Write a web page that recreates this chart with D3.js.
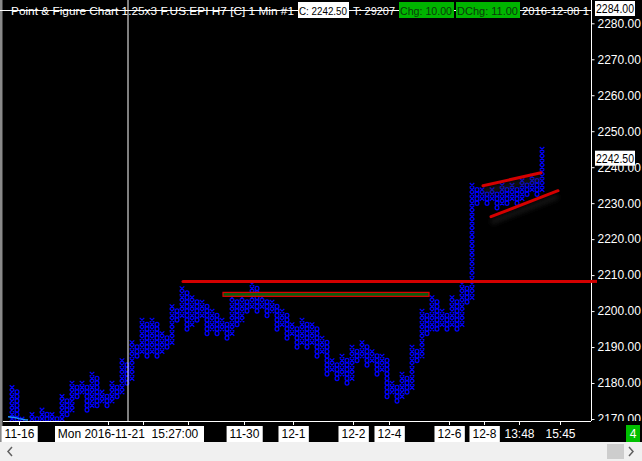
<!DOCTYPE html>
<html><head><meta charset="utf-8">
<script src="https://cdn.jsdelivr.net/npm/d3@7"></script>
<style>html,body{margin:0;padding:0;background:#000;overflow:hidden}svg{display:block}</style>
</head><body><svg id="c" width="642" height="461"></svg>
<script>
// ---- data ----
const boxSize = 1.25;
const colType = "XOXOXOXOXOXOXOXOXOXOXOXOXOXOXOXOXOXOXOXOXOXOXOXOXOXOXOXOXOXOXOXOXOXOXOXOXOXOXOXOXOXOXOXOXOXOXOXOXOXOXOXOXOX".split("");
const colHigh = [2178.75,2177.5,2170,2168.75,2171.25,2170,2172.5,2171.25,2171.25,2170,
 2176.25,2175,2180,2178.75,2180,2178.75,2182.5,2181.25,2177.5,2176.25,
 2180,2178.75,2186.25,2185,2191.25,2190,2197.5,2196.25,2197.5,2196.25,
 2193.75,2192.5,2201.25,2200,2206.25,2205,2203.75,2202.5,2202.5,2201.25,
 2200,2198.75,2197.5,2196.25,2203.75,2202.5,2203.75,2202.5,2207.5,2206.25,
 2203.75,2202.5,2202.5,2201.25,2200,2198.75,2196.25,2195,2197.5,2196.25,
 2196.25,2195,2192.5,2191.25,2186.25,2185,2187.5,2186.25,2190,2188.75,
 2191.25,2190,2188.75,2187.5,2187.5,2186.25,2180,2178.75,2182.5,2181.25,
 2190,2188.75,2200,2198.75,2203.75,2202.5,2200,2198.75,2203.75,2202.5,
 2207.5,2206.25,2235,2233.75,2233.75,2232.5,2233.75,2232.5,2235,2233.75,
 2235,2233.75,2236.25,2235,2237.5,2236.25,2245];
const colLow = [2167.5,2167.5,2167.5,2167.5,2167.5,2167.5,2167.5,2167.5,2167.5,2167.5,
 2170,2171.25,2172.5,2176.25,2177.5,2172.5,2173.75,2173.75,2175,2173.75,
 2175,2176.25,2177.5,2180,2181.25,2187.5,2188.75,2187.5,2188.75,2187.5,
 2188.75,2190,2191.25,2197.5,2198.75,2195,2196.25,2197.5,2198.75,2193.75,
 2195,2193.75,2195,2192.5,2193.75,2196.25,2197.5,2200,2201.25,2200,
 2201.25,2198.75,2200,2195,2196.25,2192.5,2193.75,2190,2191.25,2190,
 2191.25,2187.5,2188.75,2182.5,2183.75,2181.25,2182.5,2180,2181.25,2186.25,
 2187.5,2185,2186.25,2182.5,2183.75,2176.25,2177.5,2175,2176.25,2177.5,
 2178.75,2186.25,2187.5,2193.75,2195,2195,2196.25,2195,2196.25,2195,
 2196.25,2202.5,2203.75,2230,2231.25,2230,2231.25,2228.75,2230,2230,
 2231.25,2230,2231.25,2232.5,2233.75,2232.5,2233.75];
const priceTicks = [2170,2180,2190,2200,2210,2220,2230,2240,2250,2260,2270,2280];
const timeTickPos = [1.4,19.2,26.2,35.2,46.4,56.2,68.2,75.4,87.4,94.4,101.4,109.6];
// labels under the crosshair label are hidden in the reference (empty here)
const timeTickLabels = ["11-16","","","","11-30","12-1","12-2","12-4","12-6","12-8","13:48","15:45"];
const timeTickBoxed = [true,false,false,false,true,true,true,true,true,true,false,false];
const crossCol = 23.2;
const crossLabel = "Mon 2016-11-21  15:27:00";
const topPriceLabel = 2284.00, lastPrice = 2242.50;
// drawn studies: [col, price] endpoints
const resistLine = [[34.2,2208.25],[117.0,2208.25]];
const boxZone = {c0:42.2, c1:83.4, p0:2204.1, p1:2205.2};
const chanUpper = [[94.2,2234.85],[105.8,2238.45]];
const chanLower = [[95.8,2226.26],[109.2,2233.46]];
const blueLine = [[-0.8,2170.6],[0.6,2170.4],[1.4,2170.1],[2.6,2169.8],[3.2,2169.7]];
const headerParts = [
 {t:"Point & Figure Chart 1.25x3 F.US.EPI H7 [C]  1 Min   #1", bg:null, fg:"#fff"},
 {t:"C: 2242.50", bg:"#fff", fg:"#000"},
 {t:"T: 29207", bg:null, fg:"#fff"},
 {t:"Chg: 10.00", bg:"#00b400", fg:"#0b3b0b"},
 {t:"DChg: 11.00", bg:"#00b400", fg:"#0b3b0b"},
 {t:"2016-12-08 1", bg:null, fg:"#fff"}];
const headerX = [10,298,352,399,456,521];
const headerW = [286,51,45,55,64,70];

// ---- layout ----
const W=642,H=461, plotL=3, plotR=591, plotT=0, plotB=421;
const svg = d3.select("#c");
const font = "'Liberation Sans', Arial, sans-serif";
const x = d3.scaleLinear().domain([0,106]).range([12,542]);
const y = d3.scaleLinear().domain([2170,2280]).range([419,23.3]);

svg.append("rect").attr("width",W).attr("height",H).attr("fill","#000");
const defs = svg.append("defs");
defs.append("clipPath").attr("id","plot").append("rect").attr("x",plotL).attr("y",plotT).attr("width",plotR-plotL).attr("height",plotB-plotT);
defs.append("clipPath").attr("id","axisclip").append("rect").attr("x",plotR).attr("y",0).attr("width",W-plotR).attr("height",plotB);
const f = defs.append("filter").attr("id","shadow").attr("x","-10%").attr("y","-200%").attr("width","120%").attr("height","500%");
f.append("feGaussianBlur").attr("stdDeviation",2.5);

// left border
svg.append("rect").attr("x",0).attr("y",0).attr("width",2.5).attr("height",442).attr("fill","#8a8a8a");

const plot = svg.append("g").attr("clip-path","url(#plot)");

// P&F glyphs
const glyphs = [];
colHigh.forEach((hi,i)=>{
  const n = Math.round((hi-colLow[i])/boxSize);
  for(let k=0;k<=n;k++) glyphs.push({i, p: colLow[i]+k*boxSize, t: colType[i]});
});
const gx = glyphs.filter(d=>d.t==="X"), go = glyphs.filter(d=>d.t==="O");
plot.append("path").attr("fill","none").attr("stroke","#0000ff").attr("stroke-width",1.25)
  .attr("d", gx.map(d=>{const cx=x(d.i), cy=y(d.p);
     return `M${cx-2.3},${cy-2.2}L${cx+2.3},${cy+2.2}M${cx+2.3},${cy-2.2}L${cx-2.3},${cy+2.2}`;}).join(""));
plot.selectAll("ellipse.o").data(go).join("ellipse").attr("class","o")
  .attr("cx",d=>x(d.i)).attr("cy",d=>y(d.p)).attr("rx",1.9).attr("ry",2.1)
  .attr("fill","none").attr("stroke","#0000ff").attr("stroke-width",1.25);

// light blue study
plot.append("path").datum(blueLine).attr("fill","none").attr("stroke","#1e90ff").attr("stroke-width",1.5)
  .attr("d", d3.line().x(d=>x(d[0])).y(d=>y(d[1])));

// red studies with shadows
const line = d3.line().x(d=>x(d[0])).y(d=>y(d[1]));
const studies = svg.append("g");
[resistLine, chanUpper, chanLower].forEach(seg=>{
  studies.append("path").datum(seg.map(d=>[d[0],d[1]-1.6])).attr("d",line)
    .attr("stroke","#2a2a2a").attr("stroke-width",5).attr("fill","none").attr("filter","url(#shadow)").attr("opacity",0.55);
});
studies.append("rect").attr("x",x(boxZone.c0)).attr("y",y(boxZone.p1)).attr("width",x(boxZone.c1)-x(boxZone.c0))
  .attr("height",y(boxZone.p0)-y(boxZone.p1)).attr("fill","#0b5a0b").attr("stroke","#e00000").attr("stroke-width",1.2);
[resistLine, chanUpper, chanLower].forEach(seg=>{
  studies.append("path").datum(seg).attr("d",line).attr("stroke","#d40000").attr("stroke-width",3).attr("fill","none").attr("stroke-linecap","round");
});

// crosshair lines
svg.append("line").attr("x1",0).attr("x2",plotR).attr("y1",10.5).attr("y2",10.5).attr("stroke","#fff");
svg.append("line").attr("x1",x(crossCol)).attr("x2",x(crossCol)).attr("y1",0).attr("y2",plotB).attr("stroke","#fff");

// header
headerParts.forEach((h,k)=>{
  if(h.bg) svg.append("rect").attr("x",headerX[k]).attr("y",2).attr("width",headerW[k]).attr("height",16).attr("fill",h.bg);
  svg.append("text").attr("x",headerX[k]+1).attr("y",14.5).attr("fill",h.fg).attr("font-family",font).attr("font-size",11.5)
    .attr("textLength",headerW[k]-3).attr("lengthAdjust","spacingAndGlyphs").text(h.t);
});

// right price axis
svg.append("rect").attr("x",plotR).attr("y",0).attr("width",W-plotR).attr("height",plotB).attr("fill","#000");
const ax = svg.append("g").attr("clip-path","url(#axisclip)");
svg.append("line").attr("x1",plotR+0.5).attr("x2",plotR+0.5).attr("y1",0).attr("y2",plotB).attr("stroke","#fff");
const yAxis = d3.axisRight(y).tickValues(priceTicks).tickFormat(d3.format(".2f")).tickSize(3).tickPadding(3);
const ag = ax.append("g").attr("transform",`translate(${plotR+0.5},0)`).call(yAxis);
ag.select(".domain").remove();
ag.selectAll(".tick line").attr("stroke","#fff");
ag.selectAll(".tick text").attr("fill","#fff").attr("font-family",font).attr("font-size",12);
// red marker where the study line enters the axis
svg.append("path").datum([[115.8,2208.25],[117.0,2208.25]]).attr("d",line).attr("stroke","#d40000").attr("stroke-width",3);
// price labels boxed
[[topPriceLabel,8.5],[lastPrice,y(lastPrice)]].forEach(([v,py])=>{
  svg.append("rect").attr("x",595).attr("y",py-7.5).attr("width",40).attr("height",15).attr("fill","#fff");
  svg.append("text").attr("x",596).attr("y",py+4.5).attr("fill","#000").attr("font-family",font).attr("font-size",12)
    .attr("textLength",38).attr("lengthAdjust","spacingAndGlyphs").text(d3.format(".2f")(v));
});

// bottom time axis band
svg.append("rect").attr("x",0).attr("y",plotB).attr("width",W).attr("height",442-plotB).attr("fill","#000");
svg.append("rect").attr("x",0).attr("y",plotB).attr("width",2.5).attr("height",442-plotB).attr("fill","#8a8a8a");
svg.append("line").attr("x1",plotL).attr("x2",plotR).attr("y1",plotB+0.5).attr("y2",plotB+0.5).attr("stroke","#fff");
const xt = svg.append("g");
timeTickPos.forEach((c,k)=>{
  const px = Math.round(x(c))+0.5;
  xt.append("line").attr("x1",px).attr("x2",px).attr("y1",plotB).attr("y2",plotB+4).attr("stroke","#fff");
  if(!timeTickLabels[k]) return;
  const t = xt.append("text").attr("x",px).attr("y",438).attr("text-anchor","middle").attr("font-family",font).attr("font-size",12)
     .attr("fill", timeTickBoxed[k] ? "#000" : "#fff").text(timeTickLabels[k]);
  if(timeTickBoxed[k]){
    const bb = t.node().getBBox();
    xt.insert("rect","text:last-child").attr("x",bb.x-3).attr("y",426).attr("width",bb.width+6).attr("height",16).attr("fill","#fff");
    t.raise();
  }
});
// partly hidden label box peeking out from behind the crosshair label
svg.append("rect").attr("x",201).attr("y",426).attr("width",3).attr("height",16).attr("fill","#fff");
// crosshair time label
const cx0 = x(crossCol);
svg.append("rect").attr("x",cx0-73).attr("y",426).attr("width",146).attr("height",16).attr("fill","#fff");
svg.append("text").attr("x",cx0).attr("y",438).attr("text-anchor","middle").attr("font-family",font).attr("font-size",12)
  .attr("fill","#000").attr("xml:space","preserve").text(crossLabel);
// green counter box
svg.append("rect").attr("x",626).attr("y",425).attr("width",14).attr("height",17).attr("fill","#00c000");
svg.append("text").attr("x",633).attr("y",438).attr("text-anchor","middle").attr("font-family",font).attr("font-size",12).attr("fill","#fff").text("4");

// scrollbar
svg.append("rect").attr("x",0).attr("y",442).attr("width",W).attr("height",19).attr("fill","#f0f0f0");
svg.append("rect").attr("x",607).attr("y",444).attr("width",17).attr("height",15).attr("fill","#cdcdcd");
svg.append("path").attr("d","M12,447L8,451.5L12,456").attr("fill","none").attr("stroke","#606060").attr("stroke-width",1.5);
svg.append("path").attr("d","M629,447L633,451.5L629,456").attr("fill","none").attr("stroke","#606060").attr("stroke-width",1.5);
</script></body></html>
